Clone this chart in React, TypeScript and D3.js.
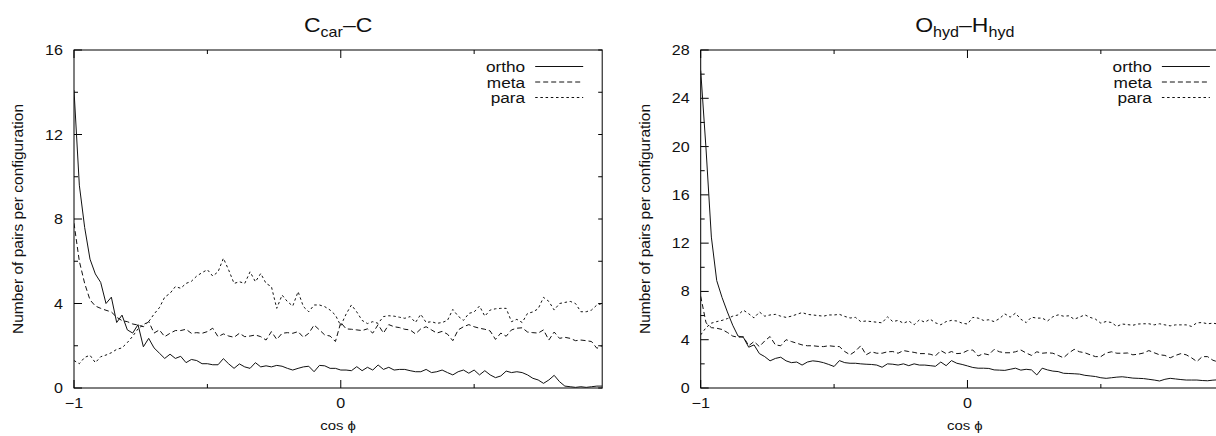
import React from 'react';
import * as d3 from 'd3';

// histogram bins of cos(phi), width 0.02 starting at -1
const BIN_START = -1;
const BIN_WIDTH = 0.02;

// C_car - C panel
const ORTHO_CC = [
  14.1, 9.6, 7.6, 6.1, 5.4, 5.0, 4.0, 4.3, 3.1, 3.45,
  2.75, 2.6, 3.0, 1.95, 2.35, 1.9, 1.65, 1.4, 1.6, 1.4,
  1.5, 1.2, 1.35, 1.3, 1.15, 1.15, 1.1, 1.1, 1.39, 1.14,
  0.93, 1.14, 1.0, 0.93, 1.2, 1.0, 1.05, 1.0, 1.07, 1.03,
  0.93, 0.85, 0.93, 1.0, 1.03, 0.77, 1.07, 1.05, 0.93, 0.93,
  0.85, 0.85, 0.82, 1.01, 0.82, 0.98, 0.85, 1.09, 0.88, 0.98,
  0.85, 0.88, 0.88, 0.82, 0.77, 0.77, 0.88, 0.73, 0.77, 0.85,
  0.73, 0.62, 0.77, 0.85, 0.7, 0.85, 0.62, 0.82, 0.62, 0.49,
  0.57, 0.8, 0.73, 0.77, 0.73, 0.62, 0.46, 0.38, 0.22, 0.38,
  0.6, 0.3, 0.09, 0.06, 0.03, 0.06, 0.03, 0.06, 0.09, 0.09,
];
const META_CC = [
  7.8, 6.0, 4.95, 4.17, 3.88, 3.77, 3.68, 3.6, 3.35, 3.19,
  3.14, 3.03, 2.98, 2.9, 3.15, 2.6, 2.75, 2.43, 2.59, 2.72,
  2.72, 2.78, 2.59, 2.62, 2.59, 2.67, 2.83, 2.43, 2.56, 2.46,
  2.4, 2.59, 2.43, 2.46, 2.51, 2.43, 2.27, 2.67, 2.3, 2.59,
  2.62, 2.59, 2.67, 2.4, 2.59, 2.98, 2.75, 2.51, 2.46, 2.2,
  3.1, 2.8, 2.78, 2.75, 2.72, 2.8, 2.6, 3.0, 2.6, 3.0,
  2.9, 2.86, 2.78, 2.75, 2.56, 2.8, 2.9, 2.75, 2.6, 2.68,
  2.55, 2.24, 2.75, 2.9, 3.0, 2.9, 2.83, 2.78, 2.7, 2.3,
  2.6, 2.45, 2.75, 2.83, 2.85, 2.65, 2.62, 2.6, 2.75, 2.27,
  2.65, 2.35, 2.4, 2.35, 2.24, 2.27, 2.24, 2.2, 1.88, 2.0,
];
const PARA_CC = [
  1.3, 1.15, 1.45, 1.55, 1.2, 1.48, 1.56, 1.67, 1.83, 1.9,
  2.15, 2.45, 2.8, 3.0, 3.14, 3.5, 3.8, 4.3, 4.48, 4.8,
  4.72, 4.95, 5.05, 5.3, 5.46, 5.6, 5.3, 5.5, 6.14, 5.58,
  4.95, 5.03, 4.95, 5.5, 5.03, 5.42, 4.95, 4.8, 3.77, 4.4,
  4.09, 3.88, 4.56, 3.85, 3.61, 3.93, 3.93, 3.85, 3.69, 3.45,
  2.95, 3.5, 3.93, 3.6, 3.2, 3.05, 3.14, 3.06, 3.38, 3.42,
  3.4, 3.35, 3.3, 3.38, 3.1, 3.49, 3.1, 3.14, 3.06, 3.1,
  3.2, 3.72, 3.4, 3.2, 3.53, 3.6, 3.88, 3.4, 3.69, 3.75,
  3.77, 3.77, 3.14, 3.25, 3.1, 3.53, 3.6, 3.75, 4.29, 4.1,
  3.69, 4.0, 4.05, 4.1, 4.0, 3.61, 3.61, 3.69, 3.93, 4.0,
];

// O_hyd - H_hyd panel
const ORTHO_OH = [
  26.3, 19.8, 12.5, 8.9, 7.5, 6.3, 5.2, 4.3, 4.2, 3.38,
  3.57, 2.85, 2.6, 2.25, 2.45, 2.55, 2.25, 2.1, 2.15, 1.9,
  2.15, 2.25, 2.2, 2.1, 1.95, 1.78, 2.27, 2.1, 2.05, 2.05,
  2.0, 1.97, 1.95, 1.9, 1.72, 2.0, 1.97, 1.9, 2.0, 1.85,
  2.0, 1.9, 1.9, 1.85, 1.8, 2.15, 1.85, 2.27, 2.05, 1.95,
  1.83, 1.7, 1.64, 1.64, 1.62, 1.5, 1.48, 1.46, 1.55, 1.64,
  1.48, 1.55, 1.5, 1.08, 1.64, 1.5, 1.4, 1.36, 1.22, 1.2,
  1.18, 1.15, 1.05, 1.0, 0.95, 0.85, 0.8, 0.85, 0.9, 0.93,
  0.88, 0.82, 0.8, 0.78, 0.72, 0.66, 0.58, 0.72, 0.8, 0.75,
  0.7, 0.66, 0.66, 0.66, 0.62, 0.6, 0.65, 0.68, 0.62, 0.6,
];
const META_OH = [
  7.6, 5.4, 5.0, 4.95, 4.85, 4.6, 4.3, 4.2, 4.25, 3.5,
  3.85, 3.43, 3.9, 4.26, 3.57, 3.5, 4.0, 3.85, 3.71, 3.57,
  3.5, 3.5, 3.45, 3.43, 3.5, 3.45, 3.43, 3.02, 2.75, 3.05,
  3.5, 2.75, 3.0, 2.88, 2.88, 3.0, 3.02, 2.88, 3.1, 3.02,
  2.95, 2.85, 2.85, 2.8, 2.66, 3.1, 2.85, 3.02, 2.85, 2.88,
  3.1, 3.15, 2.65, 2.85, 2.75, 3.2, 3.0, 2.92, 2.92, 3.0,
  3.15, 2.9, 2.7, 3.0, 2.88, 2.92, 2.88, 2.7, 2.5, 2.9,
  3.2, 3.0, 2.92, 2.75, 2.6, 2.6, 2.9, 3.0, 2.88, 2.88,
  2.9, 2.75, 2.8, 2.9, 3.1, 2.92, 2.75, 2.7, 2.5, 2.7,
  2.85, 2.75, 2.5, 2.19, 2.6, 2.6, 2.3, 2.15, 2.2, 2.3,
];
const PARA_OH = [
  4.4, 5.0, 5.37, 5.5, 5.6, 5.75, 5.95, 6.05, 6.45, 6.15,
  5.8, 6.3, 5.95, 6.05, 6.1, 5.95, 5.85, 5.95, 6.1, 6.25,
  6.1, 6.05, 6.0, 5.95, 6.05, 6.05, 6.1, 5.93, 5.8, 5.85,
  5.5, 5.55, 5.5, 5.45, 5.4, 5.9, 5.5, 5.6, 5.37, 5.55,
  5.24, 5.65, 5.45, 5.7, 5.4, 5.24, 5.5, 5.6, 5.55, 5.37,
  5.3, 5.85, 5.79, 5.6, 5.65, 5.5, 5.75, 6.14, 5.87, 6.2,
  5.7, 5.42, 5.87, 5.79, 5.79, 5.55, 5.9, 6.06, 5.95, 5.98,
  5.7, 5.87, 6.06, 5.85, 5.7, 5.37, 5.51, 5.42, 5.1, 5.3,
  5.25, 5.2, 5.3, 5.32, 5.32, 5.23, 5.32, 5.23, 5.15, 5.23,
  5.23, 5.23, 5.1, 5.4, 5.42, 5.32, 5.37, 5.3, 5.35, 5.3,
];

const SERIES_NAMES = ['ortho', 'meta', 'para'];
const X_TICKS = [-1, 0, 1];
const X_MINOR = [-0.5, 0.5];
const Y_TICKS_CC = [0, 4, 8, 12, 16];
const Y_TICKS_OH = [0, 4, 8, 12, 16, 20, 24, 28];

const W = 1216;
const H = 436;
const TOP = 50;
const BOTTOM = 388;
const PANEL_W = 528.2;
const FONT = '"Liberation Sans", Arial, Helvetica, sans-serif';
const DASHES = [null, '5,3', '2.5,2.7'];
const SX = 1.15; // the figure is a little wider than tall

const T = ({ x, y, size, anchor = 'start', children }: any) => (
  <text
    transform={`translate(${x},${y}) scale(${SX},1)`}
    fontSize={size}
    textAnchor={anchor}
    fontFamily={FONT}
    fill="#111"
  >
    {children}
  </text>
);

const Panel = ({ x0, title, yTicks, series, clipId }: any) => {
  const yMax = yTicks[yTicks.length - 1];
  const x = d3.scaleLinear().domain([BIN_START, BIN_START + 99 * BIN_WIDTH]).range([x0, x0 + PANEL_W]);
  const y = d3.scaleLinear().domain([0, yMax]).range([BOTTOM, TOP]);
  const x1 = x0 + PANEL_W;
  const yMinor = d3.range(2, yMax, 4);
  const line = d3.line<number>()
    .x((_, i) => x(BIN_START + i * BIN_WIDTH))
    .y(d => y(d));
  const xMajor = X_TICKS.filter(t => t <= x.domain()[1]);
  const cx = x0 + PANEL_W / 2;

  return (
    <g>
      <defs>
        <clipPath id={clipId}>
          <rect x={x0} y={TOP} width={PANEL_W} height={BOTTOM - TOP} />
        </clipPath>
      </defs>
      <g stroke="#000" strokeWidth={1} fill="none">
        <rect x={x0} y={TOP} width={PANEL_W} height={BOTTOM - TOP} />
        {yTicks.map(t => (
          <g key={'y' + t}>
            <line x1={x0} x2={x0 + 8} y1={y(t)} y2={y(t)} />
            <line x1={x1} x2={x1 - 4} y1={y(t)} y2={y(t)} />
          </g>
        ))}
        {yMinor.map(t => (
          <g key={'ym' + t}>
            <line x1={x0} x2={x0 + 4} y1={y(t)} y2={y(t)} />
            <line x1={x1} x2={x1 - 4} y1={y(t)} y2={y(t)} />
          </g>
        ))}
        {xMajor.map(t => (
          <g key={'x' + t}>
            <line x1={x(t)} x2={x(t)} y1={BOTTOM} y2={BOTTOM - 8} />
            <line x1={x(t)} x2={x(t)} y1={TOP} y2={TOP + 8} />
          </g>
        ))}
        {X_MINOR.map(t => (
          <g key={'xm' + t}>
            <line x1={x(t)} x2={x(t)} y1={BOTTOM} y2={BOTTOM - 4} />
            <line x1={x(t)} x2={x(t)} y1={TOP} y2={TOP + 4} />
          </g>
        ))}
      </g>

      {yTicks.map(t => (
        <T key={'yl' + t} x={x0 - 11} y={y(t) + 5} size={14} anchor="end">{t}</T>
      ))}
      {xMajor.map(t => (
        <T key={'xl' + t} x={x(t)} y={408} size={14} anchor="middle">
          {t < 0 ? '\u2212' + Math.abs(t) : t}
        </T>
      ))}

      <g clipPath={`url(#${clipId})`} fill="none" stroke="#111" strokeWidth={1}>
        {series.map((s, k) => (
          <path key={k} d={line(s) || ''} strokeDasharray={DASHES[k] || undefined} />
        ))}
      </g>

      {SERIES_NAMES.map((name, k) => {
        const ry = 66.5 + k * 15.5;
        return (
          <g key={name}>
            <T x={x1 - 77} y={ry + 5.5} size={15} anchor="end">{name}</T>
            <line x1={x1 - 67} x2={x1 - 19} y1={ry} y2={ry} stroke="#111" strokeWidth={1}
              strokeDasharray={DASHES[k] || undefined} />
          </g>
        );
      })}

      <T x={cx} y={32} size={20} anchor="middle">
        {title.map((part, i) => (
          <tspan key={i} fontSize={part.sub ? 14 : 20} dy={part.sub ? 5 : (i > 0 && title[i - 1].sub ? -5 : 0)}>
            {part.text}
          </tspan>
        ))}
      </T>

      <text
        transform={`translate(${x0 - 51},219) rotate(-90)`}
        fontSize={15.5}
        textAnchor="middle"
        fontFamily={FONT}
        fill="#111"
      >
        Number of pairs per configuration
      </text>
      <T x={cx} y={430} size={13} anchor="middle">cos {'\u03D5'}</T>
    </g>
  );
};

export default function App() {
  return (
    <div style={{ position: 'absolute', left: 0, top: 0 }}>
      <svg width={W} height={H} style={{ display: 'block', background: '#fff' }}>
        <Panel
          x0={74}
          clipId="clip-cc"
          title={[{ text: 'C' }, { text: 'car', sub: true }, { text: '\u2013C' }]}
          yTicks={Y_TICKS_CC}
          series={[ORTHO_CC, META_CC, PARA_CC]}
        />
        <Panel
          x0={700.7}
          clipId="clip-oh"
          title={[{ text: 'O' }, { text: 'hyd', sub: true }, { text: '\u2013H' }, { text: 'hyd', sub: true }]}
          yTicks={Y_TICKS_OH}
          series={[ORTHO_OH, META_OH, PARA_OH]}
        />
      </svg>
    </div>
  );
}
